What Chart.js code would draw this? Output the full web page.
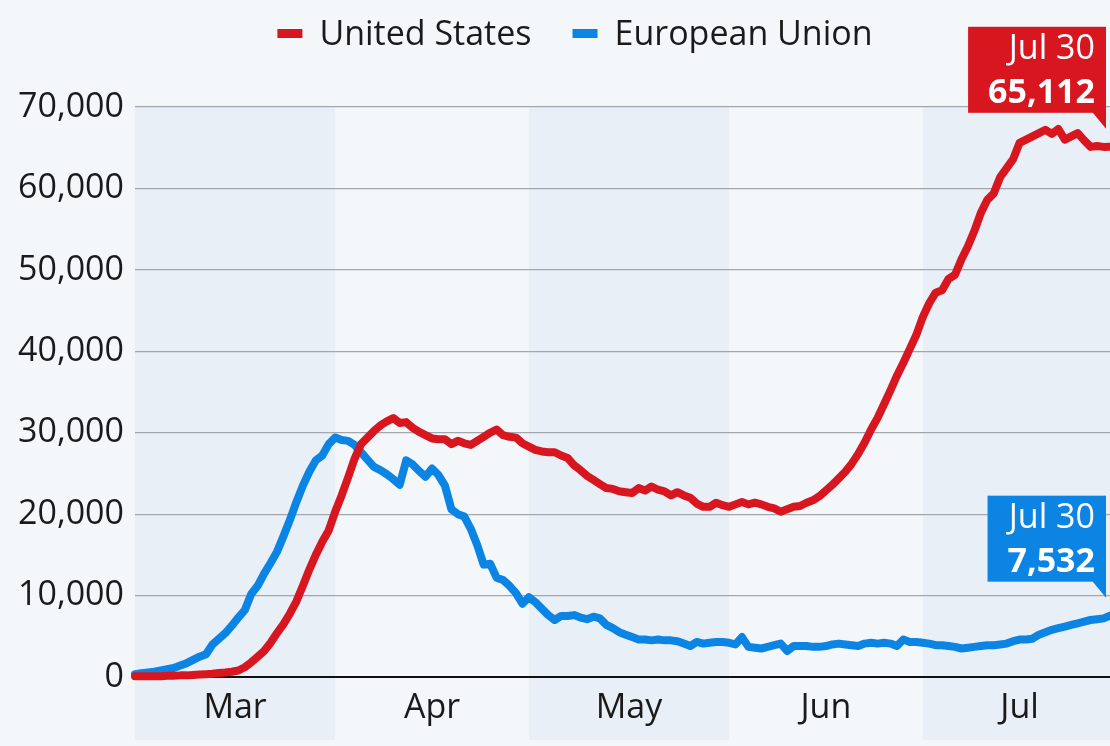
<!DOCTYPE html>
<html>
<head>
<meta charset="utf-8">
<script src="https://cdn.jsdelivr.net/npm/chart.js@4.4.1/dist/chart.umd.min.js"></script>
<style>
  body { margin: 0; background: #f4f7fa; }
  #wrap { width: 1110px; height: 746px; }
</style>
</head>
<body>
<div id="wrap"><canvas id="casesChart" width="1110" height="746"></canvas></div>
<script>
// daily new cases, Mar 1 .. Jul 30 (one value per day)
const usCases = [
  100, 100, 100, 100, 100, 150, 150, 200, 200, 250,
  300, 350, 400, 500, 550, 650, 800, 1200, 1800, 2500,
  3200, 4200, 5400, 6500, 7800, 9300, 11200, 13200, 15000, 16600,
  18000, 20300, 22300, 24500, 26800, 28600, 29400, 30200, 30900, 31400,
  31800, 31200, 31300, 30600, 30100, 29700, 29300, 29200, 29200, 28600,
  29000, 28700, 28500, 29000, 29500, 30000, 30400, 29700, 29500, 29400,
  28700, 28300, 27900, 27700, 27600, 27600, 27200, 26900, 26000, 25400,
  24700, 24200, 23700, 23200, 23100, 22800, 22700, 22600, 23200, 22900,
  23400, 23000, 22800, 22300, 22700, 22300, 22000, 21300, 20900, 20900,
  21400, 21100, 20900, 21200, 21500, 21200, 21400, 21200, 20900, 20700,
  20300, 20600, 20900, 21000, 21400, 21700, 22200, 22900, 23600, 24400,
  25200, 26200, 27400, 28800, 30400, 31800, 33500, 35200, 37000, 38600,
  40300, 42000, 44200, 45900, 47200, 47500, 48900, 49400, 51300, 52900,
  54800, 57000, 58600, 59400, 61400, 62500, 63600, 65600, 66000, 66400,
  66800, 67200, 66700, 67300, 66000, 66400, 66800, 65900, 65100, 65200,
  65100, 65112
];
const euCases = [
  350, 450, 550, 650, 800, 950, 1100, 1400, 1700, 2100,
  2500, 2800, 4000, 4700, 5400, 6300, 7300, 8200, 10200, 11200,
  12700, 14000, 15400, 17300, 19300, 21500, 23500, 25200, 26600, 27200,
  28600, 29400, 29100, 29000, 28500, 27600, 26700, 25800, 25400, 24900,
  24300, 23600, 26600, 26100, 25300, 24600, 25600, 24800, 23500, 20600,
  20000, 19700, 18200, 16200, 13800, 13900, 12200, 11900, 11200, 10300,
  9000, 9800, 9200, 8400, 7600, 7000, 7500, 7500, 7600, 7300,
  7100, 7400, 7200, 6400, 6000, 5500, 5200, 4900, 4600, 4600,
  4500, 4600, 4500, 4500, 4400, 4100, 3800, 4300, 4100, 4200,
  4300, 4300, 4200, 4000, 4900, 3700, 3600, 3500, 3700, 3900,
  4100, 3200, 3800, 3800, 3800, 3700, 3700, 3800, 4000, 4100,
  4000, 3900, 3800, 4100, 4200, 4100, 4200, 4100, 3800, 4600,
  4300, 4300, 4200, 4100, 3900, 3900, 3800, 3700, 3500, 3600,
  3700, 3800, 3900, 3900, 4000, 4100, 4400, 4600, 4600, 4700,
  5200, 5500, 5800, 6000, 6200, 6400, 6600, 6800, 7000, 7100,
  7200, 7532
];
const monthLabels = ['Mar', 'Apr', 'May', 'Jun', 'Jul'];
const monthStarts = [0, 31, 61, 92, 122, 152]; // day index where each month begins
const lastDateLabel = 'Jul 30';

const RED = '#d7161f';
const BLUE = '#0b84e3';
const FONT = "'Open Sans', sans-serif";
const fmt = v => v.toLocaleString('en-US');

// background + alternating month bands
const bandsPlugin = {
  id: 'bands',
  beforeDraw(chart) {
    const { ctx, chartArea, scales } = chart;
    ctx.save();
    ctx.fillStyle = '#f4f7fa';
    ctx.fillRect(0, 0, chart.width, chart.height);
    ctx.fillStyle = '#e9eff6';
    for (let m = 0; m < monthLabels.length; m += 2) {
      const x0 = scales.x.getPixelForValue(monthStarts[m]);
      const x1 = Math.min(scales.x.getPixelForValue(monthStarts[m + 1]), chart.width);
      ctx.fillRect(x0, chartArea.top, x1 - x0, chartArea.bottom + 63 - chartArea.top);
    }
    ctx.restore();
  }
};

// legend drawn at the top, line-style markers
const legendPlugin = {
  id: 'topLegend',
  afterDraw(chart) {
    const { ctx } = chart;
    const sets = chart.data.datasets;
    ctx.save();
    ctx.font = '34px ' + FONT;
    const gap = 41, boxW = 25, boxH = 9, textOff = 17;
    const widths = sets.map(d => boxW + textOff + ctx.measureText(d.label).width);
    const total = widths.reduce((a, b) => a + b, 0) + gap * (sets.length - 1);
    let x = chart.width / 2 + 20 - total / 2;
    sets.forEach((d, i) => {
      ctx.fillStyle = d.borderColor;
      ctx.fillRect(x, 29, boxW, boxH);
      ctx.fillStyle = '#1a1a1a';
      ctx.textBaseline = 'alphabetic';
      ctx.fillText(d.label, x + boxW + textOff, 45);
      x += widths[i] + gap;
    });
    ctx.restore();
  }
};

// end-of-line callouts
const calloutPlugin = {
  id: 'callouts',
  afterDatasetsDraw(chart) {
    const { ctx, chartArea } = chart;
    chart.data.datasets.forEach((d, di) => {
      const pts = chart.getDatasetMeta(di).data;
      const last = pts[pts.length - 1];
      const val = d.data[d.data.length - 1].y;
      ctx.save();
      ctx.font = 'bold 34px ' + FONT;
      const wVal = ctx.measureText(fmt(val)).width;
      ctx.font = '34px ' + FONT;
      const wDate = ctx.measureText(lastDateLabel).width;
      const right = chartArea.right - 4;
      const bottom = last.y - 34;
      const top = bottom - 86;
      const left = right - Math.max(wVal, wDate) - 31;
      ctx.fillStyle = d.borderColor;
      ctx.fillRect(left, top, right - left, bottom - top);
      ctx.beginPath();
      ctx.moveTo(right - 14, bottom - 1);
      ctx.lineTo(right, bottom - 1);
      ctx.lineTo(right, bottom + 16);
      ctx.closePath();
      ctx.fill();
      ctx.fillStyle = '#ffffff';
      ctx.textAlign = 'right';
      ctx.textBaseline = 'alphabetic';
      ctx.fillText(lastDateLabel, right - 11, top + 32);
      ctx.font = 'bold 34px ' + FONT;
      ctx.fillText(fmt(val), right - 11, top + 76);
      ctx.restore();
    });
  }
};

const toPoints = arr => arr.map((v, i) => ({ x: i, y: v }));

new Chart(document.getElementById('casesChart').getContext('2d'), {
  type: 'line',
  data: {
    datasets: [
      { label: 'United States', data: toPoints(usCases), borderColor: RED, backgroundColor: RED,
        borderWidth: 8, pointRadius: 0, tension: 0, borderJoinStyle: 'round', borderCapStyle: 'round', clip: false },
      { label: 'European Union', data: toPoints(euCases), borderColor: BLUE, backgroundColor: BLUE,
        borderWidth: 8, pointRadius: 0, tension: 0, borderJoinStyle: 'round', borderCapStyle: 'round', clip: false }
    ]
  },
  options: {
    responsive: false,
    animation: false,
    layout: { padding: { top: 107, right: 0, left: 0, bottom: 0 } },
    plugins: { legend: { display: false }, tooltip: { enabled: false } },
    scales: {
      x: {
        type: 'linear', min: 0, max: usCases.length - 1,
        afterBuildTicks: s => {
          s.ticks = monthLabels.map((m, i) => ({ value: (monthStarts[i] + monthStarts[i + 1]) / 2 }));
        },
        afterFit: s => { s.height = 69; },
        grid: { display: false },
        border: { display: false },
        ticks: {
          autoSkip: false, maxRotation: 0, padding: 3,
          color: '#1a1a1a', font: { family: FONT, size: 34 },
          callback: (v, i) => monthLabels[i]
        }
      },
      y: {
        min: 0, max: 70000,
        afterFit: s => { s.width = 135; },
        grid: {
          drawTicks: false,
          color: c => c.tick.value === 0 ? '#111111' : '#a3a6aa',
          lineWidth: c => c.tick.value === 0 ? 2 : 1.2
        },
        border: { display: false },
        ticks: {
          stepSize: 10000, padding: 11,
          color: '#1a1a1a', font: { family: FONT, size: 34 },
          callback: v => fmt(v)
        }
      }
    }
  },
  plugins: [bandsPlugin, legendPlugin, calloutPlugin]
});
</script>
</body>
</html>
